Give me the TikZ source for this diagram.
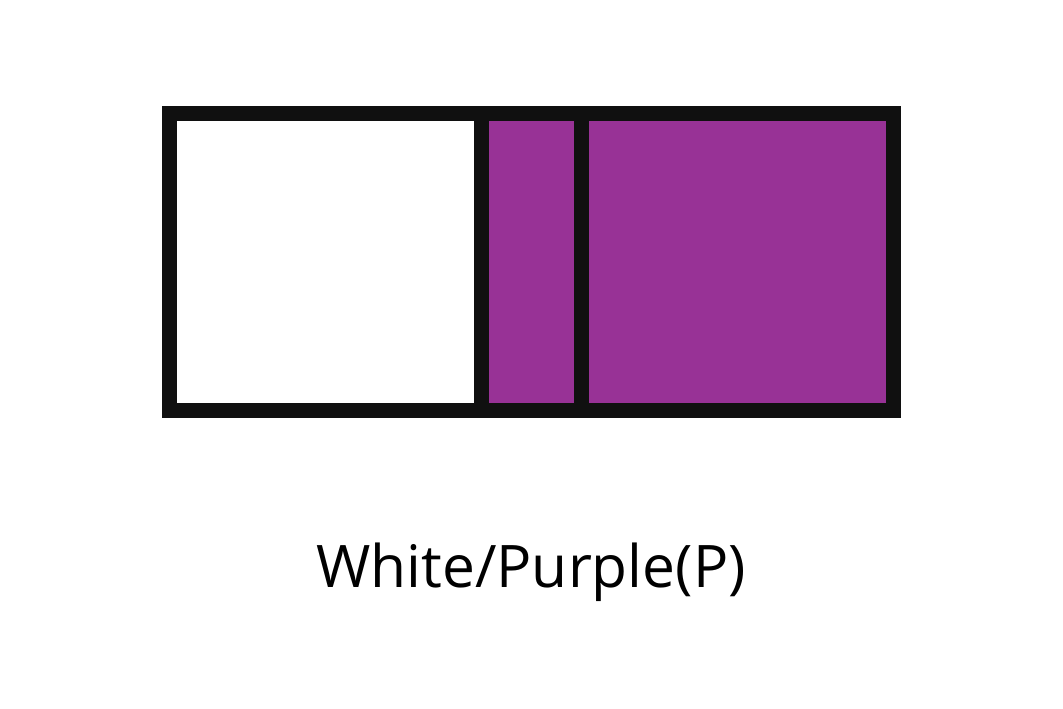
\documentclass[tikz,border=0pt]{standalone}
\usepackage{fontspec}
\setmainfont{Open Sans}
\definecolor{pur}{RGB}{152,50,150}
\definecolor{ink}{RGB}{16,16,16}
\begin{document}
\begin{tikzpicture}[x=0.75pt,y=-0.75pt,
  frame/.style={draw=ink,line width=11.25pt},
  label/.style={font=\fontsize{44}{50}\selectfont,text=black,inner sep=0pt,anchor=base}]
\useasboundingbox (0,0) rectangle (1063,709);
\fill[pur] (481.5,113.5) rectangle (893,410.5);
\draw[frame] (169.5,113.5) rectangle (893,410.5);
\draw[frame,line cap=rect] (481.5,113.5) -- (481.5,410.5);
\draw[frame,line cap=rect] (581.5,113.5) -- (581.5,410.5);
\node[label] (lbl) at (531,587) {White/Purple(P)};
\end{tikzpicture}
\end{document}
